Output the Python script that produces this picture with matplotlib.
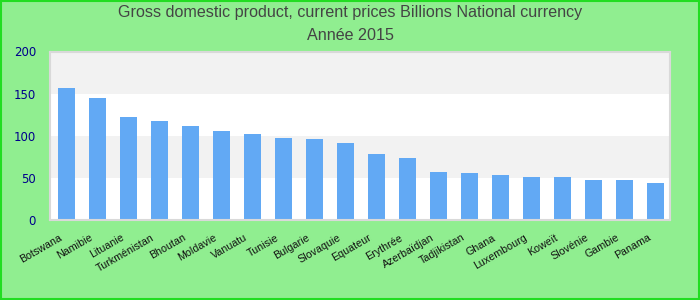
import matplotlib
matplotlib.use("Agg")
import matplotlib.pyplot as plt
import matplotlib.transforms as mtransforms
import numpy as np

# data
countries = ["Botswana", "Namibie", "Lituanie", "Turkménistan", "Bhoutan",
             "Moldavie", "Vanuatu", "Tunisie", "Bulgarie", "Slovaquie",
             "Equateur", "Erythrée", "Azerbaïdjan", "Tadjikistan", "Ghana",
             "Luxembourg", "Koweït", "Slovénie", "Gambie", "Panama"]
values = [157, 145, 122.5, 117.5, 111.5, 106, 102, 97.5, 96, 91.5,
          78.5, 73.5, 57, 56, 53.5, 51, 51, 47.5, 47.5, 44]
y_ticks = [0, 50, 100, 150, 200]

title_line1 = "Gross domestic product, current prices Billions National currency"
title_line2 = "Année 2015"

bg = "#90ee90"
bar_color = "#62a9f4"

fig = plt.figure(figsize=(7, 3), dpi=100, facecolor=bg)
ax = fig.add_axes([50 / 700, 80 / 300, 620 / 700, 168.5 / 300])
ax.set_facecolor("white")

# alternating horizontal bands
for i in range(len(y_ticks) - 1):
    if i % 2 == 1:
        ax.axhspan(y_ticks[i], y_ticks[i + 1], color="#f2f2f2", zorder=0, lw=0)

x = np.arange(len(countries))
ax.bar(x, values, width=0.55, color=bar_color, zorder=2)

ax.set_xlim(-0.53, len(countries) - 0.53)
ax.set_ylim(0, 200)
ax.set_yticks(y_ticks)
ax.set_yticklabels([str(t) for t in y_ticks], color="#00008b", fontsize=8.5,
                   family="DejaVu Sans")
ax.tick_params(axis="y", length=0, pad=10)
ax.tick_params(axis="x", length=0, pad=9)
ax.set_xticks(x)
ax.set_xticklabels(countries, rotation=30, ha="right", rotation_mode="anchor",
                   fontsize=7.7, color="#111111", family="Liberation Sans")
# nudge x labels to the left, like the reference
shift = mtransforms.ScaledTranslation(-8 / 100, 0, fig.dpi_scale_trans)
for lbl in ax.get_xticklabels():
    lbl.set_transform(lbl.get_transform() + shift)

for s in ax.spines.values():
    s.set_color("#d9d9d9")
    s.set_linewidth(1.5)

fig.text(0.5, 1 - 13 / 300, title_line1, ha="center", va="center",
         fontsize=11.6, color="#444444", family="Liberation Sans")
fig.text(0.5, 1 - 35 / 300, title_line2, ha="center", va="center",
         fontsize=11.6, color="#444444", family="Liberation Sans")

# outer green frame
fig.patches.append(plt.Rectangle((0.001, 0.002), 0.997, 0.995, transform=fig.transFigure,
                                 fill=False, edgecolor="#22dd22", lw=1.5))

fig.savefig("out.png", dpi=100, facecolor=bg)
